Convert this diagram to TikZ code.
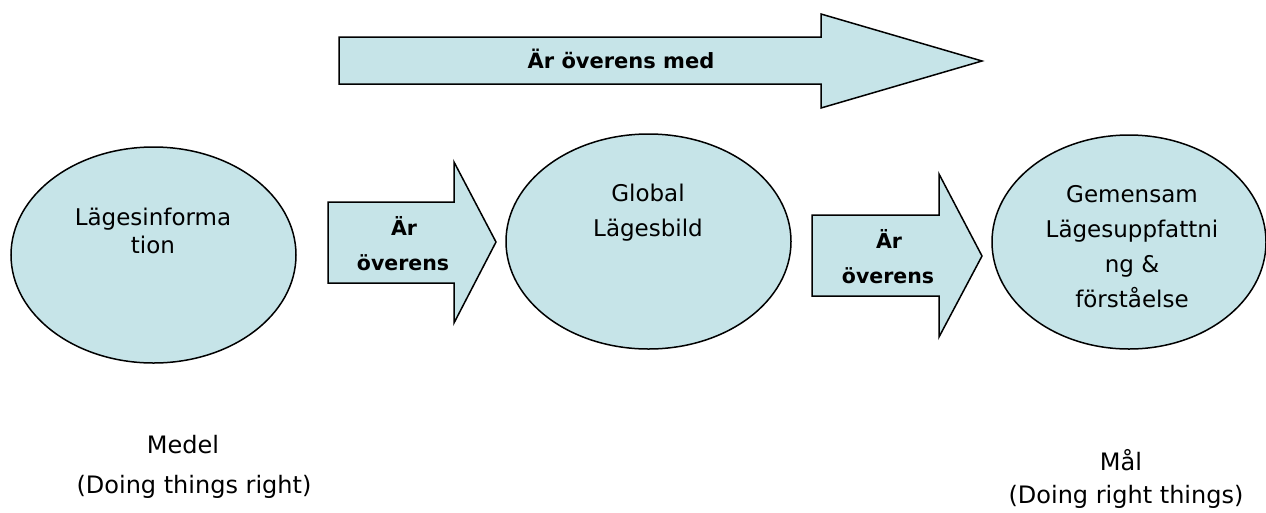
\documentclass[tikz,border=0pt]{standalone}
\usepackage{fontspec}
\setmainfont{DejaVu Sans}
\usetikzlibrary{shapes.geometric}
\definecolor{fillblue}{RGB}{198,228,232}
\begin{document}
\begin{tikzpicture}[x=1pt,y=-1pt,
  shapefill/.style={fill=fillblue,draw=black,line width=1.5pt,line join=miter},
  oval/.style={shapefill,ellipse,inner sep=0pt},
  ovaltext/.style={anchor=base,inner sep=0pt,font=\fontsize{23}{27}\selectfont},
  arrowtext/.style={anchor=base,inner sep=0pt,font=\fontsize{20.5}{24}\selectfont\bfseries},
  toptext/.style={anchor=base,inner sep=0pt,font=\fontsize{21}{25}\selectfont\bfseries},
  bottomtext/.style={anchor=base,inner sep=0pt,font=\fontsize{24}{28}\selectfont}
]
\useasboundingbox (0,0) rectangle (1266,512);

% top block arrow
\draw[shapefill] (339,37) -- (821,37) -- (821,14) -- (982,61) -- (821,108) -- (821,84) -- (339,84) -- cycle;
\node[toptext] (topl) at (621,68) {Är överens med};

% ellipses
\node[oval,minimum width=285pt,minimum height=216pt] (e1) at (153.5,255) {};
\node[oval,minimum width=285pt,minimum height=215pt] (e2) at (648.5,241.5) {};
\node[oval,minimum width=274pt,minimum height=214pt] (e3) at (1129,242) {};

\node[ovaltext] (e1a) at (153,225) {Lägesinforma};
\node[ovaltext] (e1b) at (153,253) {tion};

\node[ovaltext] (e2a) at (648,201) {Global};
\node[ovaltext] (e2b) at (648,236) {Lägesbild};

\node[ovaltext] (e3a) at (1132,202) {Gemensam};
\node[ovaltext] (e3b) at (1132,237) {Lägesuppfattni};
\node[ovaltext] (e3c) at (1132,272) {ng \&};
\node[ovaltext] (e3d) at (1132,307) {förståelse};

% middle block arrows
\draw[shapefill] (328,202) -- (454,202) -- (454,162) -- (496,242) -- (454,323) -- (454,283) -- (328,283) -- cycle;
\node[arrowtext] (a1a) at (404,235) {Är};
\node[arrowtext] (a1b) at (403,270) {överens};

\draw[shapefill] (812,215) -- (939,215) -- (939,174) -- (982,256) -- (939,337) -- (939,296) -- (812,296) -- cycle;
\node[arrowtext] (a2a) at (889,248) {Är};
\node[arrowtext] (a2b) at (888,283) {överens};

% bottom captions
\node[bottomtext] (b1a) at (183,453) {Medel};
\node[bottomtext] (b1b) at (194,493) {(Doing things right)};
\node[bottomtext] (b2a) at (1121,470) {Mål};
\node[bottomtext] (b2b) at (1126,503) {(Doing right things)};
\end{tikzpicture}
\end{document}
